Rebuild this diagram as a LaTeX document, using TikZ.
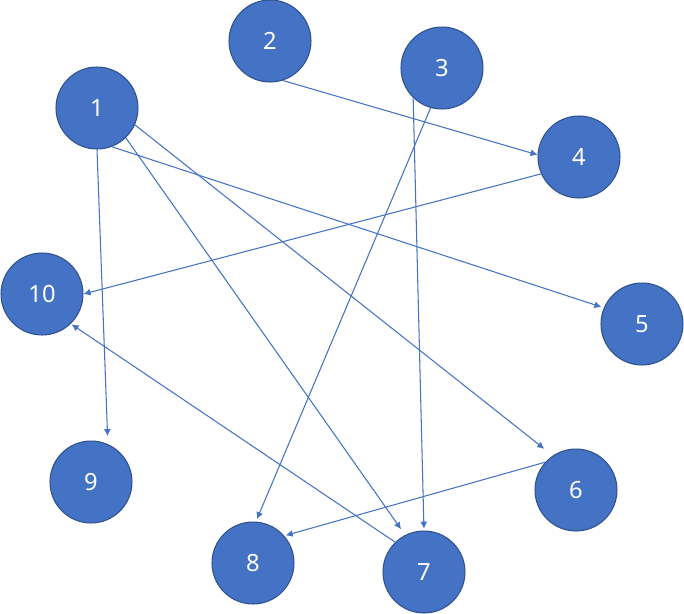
\documentclass[tikz,border=0pt]{standalone}
\usepackage{fontspec}
\setmainfont{Noto Sans}
\usetikzlibrary{arrows.meta,calc}
\definecolor{nodeblue}{HTML}{4472C4}
\definecolor{rimblue}{HTML}{2F528F}

\begin{document}
\begin{tikzpicture}[x=0.02cm, y=-0.02cm,
		vert/.style={circle, fill=nodeblue, draw=rimblue, line width=0.6pt, minimum size=1.64cm, inner sep=0pt, text=white, font=\fontsize{13.5}{16}\selectfont},
		link/.style={draw=nodeblue, line width=0.6pt, -{Latex[length=4pt,width=4pt]}}]

		\useasboundingbox (0, 0) rectangle (684, 613);

		% vertices
		\foreach \n/\x/\y in {1/97/108, 2/270/41, 3/442/68, 4/579/157, 5/642/324, 6/576/490, 7/424/572, 8/253/563, 9/91/482, 10/42/294} {
		\node[vert] (v\n) at (\x, \y) {\n};
		}

		% edges: from / start angle / to / end angle / gap
		\foreach \a/\p/\b/\q/\g in {1/270/9/66/4.5, 1/314/7/117/4, 1/336/6/124/6.2, 1/291/5/157/1.4, 2/288/4/177/0, 3/226/7/90/1, 3/254/8/86/1.5, 4/204/10/0/0, 6/138/8/41/0.8, 7/134/10/314/0.5} {
		\draw[link, shorten >=\g pt] (v\a.\p) -- (v\b.\q);
		}

	\end{tikzpicture}
\end{document}
